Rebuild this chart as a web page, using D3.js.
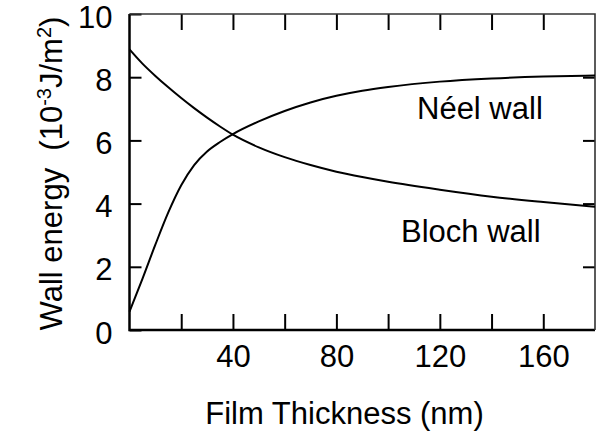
<!DOCTYPE html>
<html>
<head>
<meta charset="utf-8">
<script src="https://cdn.jsdelivr.net/npm/d3@7"></script>
<style>
  html, body { margin: 0; padding: 0; background: #fff; }
  svg { display: block; }
  text { font-family: "Liberation Sans", Arial, Helvetica, sans-serif; fill: #000; }
</style>
</head>
<body>
<svg id="chart" width="596" height="432"></svg>
<script>
// Film thickness (nm) sample points
const thickness = [0, 5, 10, 15, 20, 25, 30, 35, 40, 50, 60, 70, 80, 90, 100, 120, 140, 160, 180];
// Wall energy (10^-3 J/m^2)
const neelEnergy  = [0.58, 1.62, 2.70, 3.72, 4.58, 5.22, 5.65, 5.95, 6.20, 6.60, 6.93, 7.20, 7.41, 7.57, 7.69, 7.86, 7.96, 8.02, 8.05];
const blochEnergy = [8.88, 8.43, 8.04, 7.68, 7.34, 7.02, 6.72, 6.44, 6.18, 5.78, 5.47, 5.22, 5.01, 4.84, 4.69, 4.44, 4.22, 4.05, 3.90];

const xTicks = [20, 40, 60, 80, 100, 120, 140, 160];
const xTickLabels = [40, 80, 120, 160];
const yTicks = [0, 2, 4, 6, 8, 10];

const svg = d3.select("#chart");
const plot = { left: 129.5, right: 595, top: 14, bottom: 330 };

const x = d3.scaleLinear().domain([0, 180]).range([plot.left, plot.right]);
const y = d3.scaleLinear().domain([0, 10]).range([plot.bottom, plot.top]);

// Axes with inward ticks
const fontSize = 31;
function styleAxis(g) {
  g.select(".domain").remove();
  g.selectAll(".tick line").attr("stroke", "#000").attr("stroke-width", 2);
  g.selectAll(".tick text").attr("font-size", fontSize)
    .attr("font-family", "'Liberation Sans', Arial, sans-serif").attr("fill", "#000");
}

svg.append("g").attr("transform", `translate(0,${plot.bottom})`)
  .call(d3.axisBottom(x).tickValues(xTicks).tickSize(-16).tickPadding(15)
    .tickFormat(d => xTickLabels.includes(d) ? d : ""))
  .call(styleAxis);

svg.append("g").attr("transform", `translate(0,${plot.top})`)
  .call(d3.axisTop(x).tickValues(xTicks).tickSize(-16).tickFormat(""))
  .call(styleAxis);

svg.append("g").attr("transform", `translate(${plot.left},0)`)
  .call(d3.axisLeft(y).tickValues(yTicks).tickSize(-12).tickPadding(17).tickFormat(d3.format("d")))
  .call(styleAxis)
  .call(g => g.selectAll(".tick text").attr("dy", "0.42em"));

svg.append("g").attr("transform", `translate(${plot.right},0)`)
  .call(d3.axisRight(y).tickValues(yTicks.filter(d => d > 0 && d < 10)).tickSize(-12).tickFormat(""))
  .call(styleAxis);

// Plot frame
const frame = svg.append("g").attr("fill", "none");
frame.append("path").attr("d", `M${plot.left},${plot.top}V${plot.bottom}H${plot.right}`)
  .attr("stroke", "#000").attr("stroke-width", 2.5);
frame.append("path").attr("d", `M${plot.left},${plot.top}H${plot.right}V${plot.bottom}`)
  .attr("stroke", "#333").attr("stroke-width", 1.6);

// Energy curves
const line = d3.line().curve(d3.curveMonotoneX);
const curves = [neelEnergy, blochEnergy];
svg.append("g").selectAll("path").data(curves).join("path")
  .attr("d", vals => line(thickness.map((t, i) => [x(t), y(vals[i])])))
  .attr("fill", "none").attr("stroke", "#000").attr("stroke-width", 2);

// Curve labels
svg.append("text").attr("x", 417).attr("y", 119).attr("font-size", fontSize).text("Néel wall");
svg.append("text").attr("x", 401).attr("y", 242).attr("font-size", fontSize).text("Bloch wall");

// Axis titles
svg.append("text").attr("x", 344.5).attr("y", 423.5).attr("text-anchor", "middle")
  .attr("font-size", fontSize).text("Film Thickness (nm)");

const yTitle = svg.append("text")
  .attr("transform", "translate(61.5,173.5) rotate(-90)")
  .attr("text-anchor", "middle").attr("font-size", fontSize)
  .style("white-space", "pre");
yTitle.append("tspan").text("Wall energy  (10");
yTitle.append("tspan").attr("font-size", 20).attr("dy", -11).text("-3");
yTitle.append("tspan").attr("dy", 11).text("J/m");
yTitle.append("tspan").attr("font-size", 20).attr("dy", -11).text("2");
yTitle.append("tspan").attr("dy", 11).text(")");
</script>
</body>
</html>
